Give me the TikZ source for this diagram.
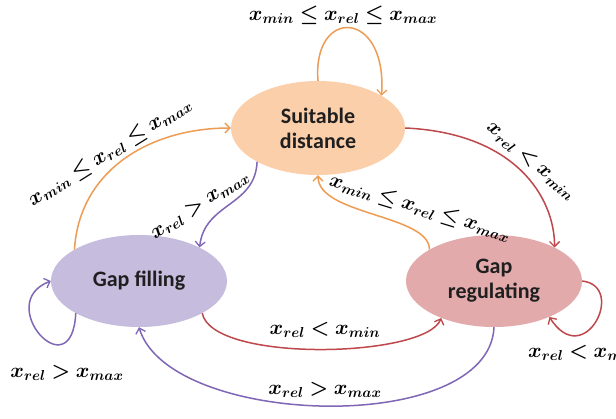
\documentclass[tikz,border=0pt]{standalone}
\usepackage{amsmath,bm}
\usepackage{fontspec}
\newfontfamily\nodefont{Carlito}
\usetikzlibrary{arrows.meta}
\definecolor{orE}{RGB}{238,156,84}
\definecolor{rdE}{RGB}{190,72,76}
\definecolor{puE}{RGB}{128,102,182}
\definecolor{sdF}{RGB}{251,207,170}
\definecolor{gfF}{RGB}{198,188,221}
\definecolor{grF}{RGB}{227,170,172}
\tikzset{
  state/.style={ellipse, inner sep=0pt, font=\nodefont\bfseries\fontsize{22}{25}\selectfont, align=center, text=black!88},
  conn/.style={line width=1.5pt, -{Straight Barb[length=5pt,width=10pt,line width=1.3pt]}},
  lbl/.style={inner sep=1pt, font=\fontsize{21}{24}\selectfont}
}
\usetikzlibrary{shapes.geometric}
\begin{document}
\begin{tikzpicture}[x=1pt,y=-1pt]
\useasboundingbox[fill=white] (0,0) rectangle (616,418);
\node[state, fill=sdF, minimum width=174pt, minimum height=94pt] (S) at (318,128) {Suitable\\distance};
\node[state, fill=gfF, minimum width=176pt, minimum height=92pt] (F) at (139,281) {Gap filling};
\node[state, fill=grF, minimum width=176pt, minimum height=92pt] (R) at (494,281) {Gap\\regulating};

% self loop on S
\draw[conn, orE] (S.90) .. controls +(-6,-74) and +(6,-87) .. (S.27);
% F -> S
\draw[conn, orE] (F.154) .. controls +(5,-80) and +(-80,0) .. (S.180);
% S -> F
\draw[conn, puE] (S.209) .. controls +(-2,45) and +(5,-45) .. (F.29);
% S -> R
\draw[conn, rdE] (S.0) .. controls +(110,5) and +(0,-50) .. (R.29);
% R -> S
\draw[conn, orE] (R.154) .. controls +(0,-35) and +(0,40) .. (S.270);
% F -> R
\draw[conn, rdE] (F.-27) .. controls +(10,50) and +(-15,40) .. (R.215);
% R -> F
\draw[conn, puE] (R.270) .. controls +(-5,110) and +(30,100) .. (F.270);
% self loop F
\draw[conn, puE] (F.207) .. controls +(-4,78) and +(-58,22) .. (F.180);
% self loop R
\draw[conn, rdE] (R.0) .. controls +(45,5) and +(35,55) .. (R.327);

\node[lbl] (l1) at (343,15) {$\bm{x_{min} \le x_{rel} \le x_{max}}$};
\node[lbl, rotate=32] (l2) at (110,152) {$\bm{x_{min} \le x_{rel} \le x_{max}}$};
\node[lbl, rotate=33] (l3) at (200,205) {$\bm{x_{rel} > x_{max}}$};
\node[lbl, rotate=-40] (l4) at (531,161) {$\bm{x_{rel} < x_{min}}$};
\node[lbl, rotate=-17] (l5) at (420,208) {$\bm{x_{min} \le x_{rel} \le x_{max}}$};
\node[lbl] (l6) at (325,330) {$\bm{x_{rel} < x_{min}}$};
\node[lbl] (l7) at (325,390) {$\bm{x_{rel} > x_{max}}$};
\node[lbl] (l8) at (67,373) {$\bm{x_{rel} > x_{max}}$};
\node[lbl, anchor=west] (l9) at (527,353) {$\bm{x_{rel} < x_{min}}$};
\end{tikzpicture}
\end{document}
